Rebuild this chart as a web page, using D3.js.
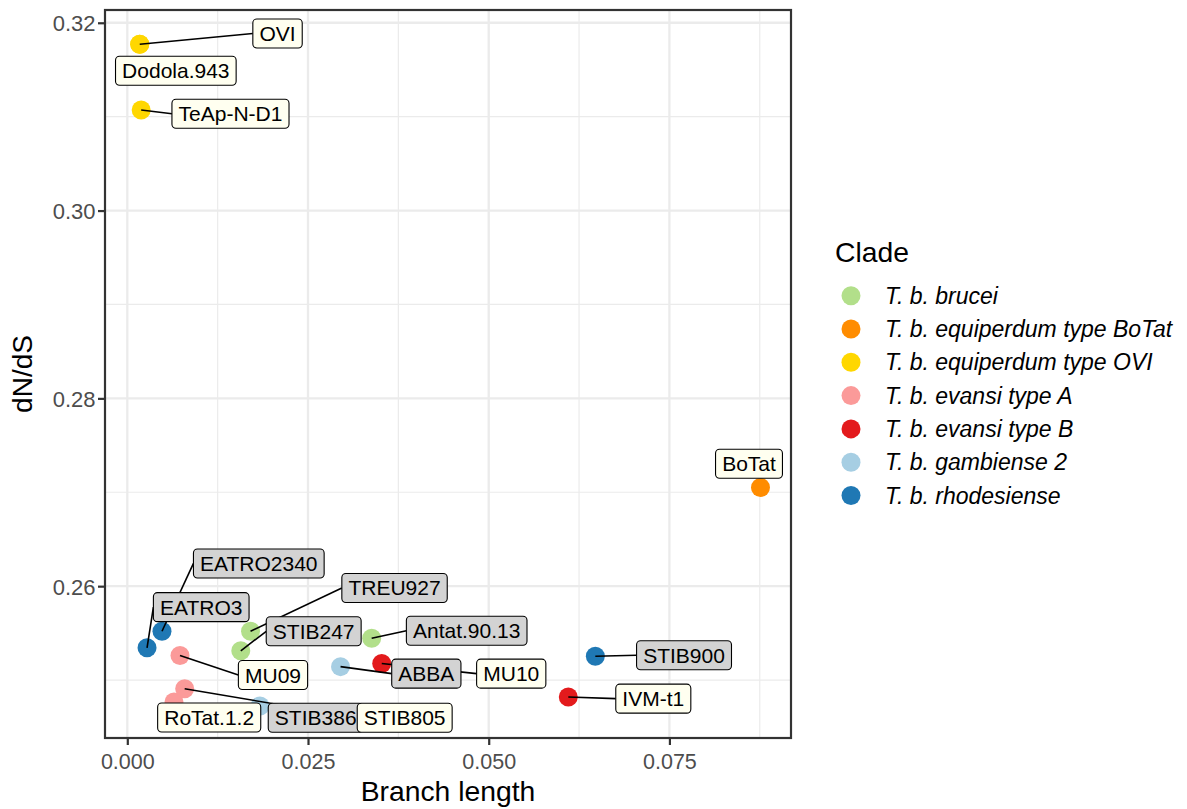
<!DOCTYPE html>
<html><head><meta charset="utf-8">
<script src="https://cdn.jsdelivr.net/npm/d3@7"></script>
<style>
body{margin:0;background:#fff}
text{font-family:"Liberation Sans",Arial,Helvetica,sans-serif}
</style>
</head><body>
<svg id="chart" width="1187" height="809"></svg>
<script>
// ---------------- data ----------------
const clades = ["T. b. brucei","T. b. equiperdum type BoTat","T. b. equiperdum type OVI",
  "T. b. evansi type A","T. b. evansi type B","T. b. gambiense 2","T. b. rhodesiense"];
// dyskinetoplastic clades -> ivory label boxes
const dyskClades = ["T. b. equiperdum type BoTat","T. b. equiperdum type OVI","T. b. evansi type A","T. b. evansi type B"];

const strains = ["OVI","Dodola.943","TeAp-N-D1","BoTat","EATRO2340","EATRO3","TREU927","STIB247",
  "Antat.90.13","ABBA","MU10","MU09","RoTat.1.2","STIB386","STIB805","STIB900","IVM-t1"];
const strainClade = ["T. b. equiperdum type OVI","T. b. equiperdum type OVI","T. b. equiperdum type OVI",
  "T. b. equiperdum type BoTat","T. b. rhodesiense","T. b. rhodesiense","T. b. brucei","T. b. brucei",
  "T. b. brucei","T. b. gambiense 2","T. b. evansi type B","T. b. evansi type A","T. b. evansi type A",
  "T. b. gambiense 2","T. b. evansi type A","T. b. rhodesiense","T. b. evansi type B"];
const branchLength = [0.00172,0.00172,0.00192,0.08760,0.00480,0.00273,0.01705,0.01570,
  0.03381,0.02950,0.03520,0.00729,0.00646,0.01836,0.00794,0.06475,0.06101];
const dnds = [0.31772,0.31772,0.31071,0.27051,0.25520,0.25344,0.25520,0.25312,
  0.25445,0.25143,0.25177,0.25262,0.24767,0.24724,0.24907,0.25253,0.24820];

const xTicks = [0, 0.025, 0.05, 0.075];
const xMinor = [0.0125, 0.0375, 0.0625, 0.0875];
const yTicks = [0.26, 0.28, 0.30, 0.32];
const yMinor = [0.25, 0.27, 0.29, 0.31];

// ---------------- layout / style ----------------
const cladeColors = ["#B2DF8A","#FF8C00","#FFD700","#FB9A99","#E31A1C","#A6CEE3","#1F78B4"];
// repelled label centre offsets (pixels, relative to the point)
const labelDx = [137.8,36.1,89.3,-11.5,96.8,54.2,144,72.9,95,85.8,129.5,93,35.2,55.7,220,88.7,85];
const labelDy = [-10.7,26.6,3.8,-23.7,-67.8,-40.6,-43.3,-19.5,-7.5,7,10.2,19.5,15.5,11.8,29,-1,1.7];

const P = {left:105, right:791, top:10, bottom:738};
const svg = d3.select("#chart");

const x = d3.scaleLinear().domain([-0.003085, 0.09182]).range([P.left, P.right]);
const y = d3.scaleLinear().domain([0.24383, 0.32136]).range([P.bottom, P.top]);
const color = d3.scaleOrdinal().domain(clades).range(cladeColors);

const data = strains.map((s,i)=>({name:s, clade:strainClade[i], x:branchLength[i], y:dnds[i], dx:labelDx[i], dy:labelDy[i]}));

// panel background + grid
svg.append("rect").attr("x",P.left).attr("y",P.top).attr("width",P.right-P.left).attr("height",P.bottom-P.top).attr("fill","#fff");
const grid = svg.append("g");
grid.selectAll(".xm").data(xMinor.filter(v=>x(v)<P.right)).enter().append("line")
  .attr("x1",d=>x(d)).attr("x2",d=>x(d)).attr("y1",P.top).attr("y2",P.bottom)
  .attr("stroke","#EBEBEB").attr("stroke-width",1.2);
grid.selectAll(".ym").data(yMinor).enter().append("line")
  .attr("y1",d=>y(d)).attr("y2",d=>y(d)).attr("x1",P.left).attr("x2",P.right)
  .attr("stroke","#EBEBEB").attr("stroke-width",1.2);
grid.selectAll(".xM").data(xTicks).enter().append("line")
  .attr("x1",d=>x(d)).attr("x2",d=>x(d)).attr("y1",P.top).attr("y2",P.bottom)
  .attr("stroke","#EBEBEB").attr("stroke-width",2.3);
grid.selectAll(".yM").data(yTicks).enter().append("line")
  .attr("y1",d=>y(d)).attr("y2",d=>y(d)).attr("x1",P.left).attr("x2",P.right)
  .attr("stroke","#EBEBEB").attr("stroke-width",2.3);

// points
const R = 9.5;
svg.append("g").selectAll("circle").data(data).enter().append("circle")
  .attr("cx",d=>x(d.x)).attr("cy",d=>y(d.y)).attr("r",R).attr("fill",d=>color(d.clade));

// labels
const labG = svg.append("g");
const segG = labG.append("g");
const boxG = labG.append("g");
const FS = 21, PADX = 6.6, BH = 29;
const lab = boxG.selectAll("g").data(data).enter().append("g");
lab.append("rect");
lab.append("text").text(d=>d.name).attr("font-size",FS).attr("fill","#000").attr("text-anchor","middle");
lab.each(function(d){
  const t = d3.select(this).select("text");
  const w = t.node().getComputedTextLength() + 2*PADX;
  d.px = x(d.x); d.py = y(d.y);
  d.cx = d.px + d.dx; d.cy = d.py + d.dy;
  d.x0 = d.cx - w/2; d.x1 = d.cx + w/2; d.y0 = d.cy - BH/2; d.y1 = d.cy + BH/2;
  t.attr("x",d.cx).attr("y",d.cy + FS*0.36);
  d3.select(this).select("rect").attr("x",d.x0).attr("y",d.y0).attr("width",w).attr("height",BH)
    .attr("rx",4).attr("ry",4)
    .attr("fill", dyskClades.includes(d.clade) ? "#FFFFF0" : "#D3D3D3")
    .attr("stroke","#000").attr("stroke-width",1.1);
  let ex, ey;
  if (d.px < d.x0) { ex = d.x0; ey = d.cy; }
  else if (d.px > d.x1) { ex = d.x1; ey = d.cy; }
  else { ex = d.px; ey = d.py < d.y0 ? d.y0 : d.y1; }
  const len = Math.hypot(ex-d.px, ey-d.py) - R;
  if (len > 8) {
    segG.append("line").attr("x1",d.px).attr("y1",d.py).attr("x2",ex).attr("y2",ey)
      .attr("stroke","#000").attr("stroke-width",1.6);
  }
});

// panel border
svg.append("rect").attr("x",P.left).attr("y",P.top).attr("width",P.right-P.left).attr("height",P.bottom-P.top)
  .attr("fill","none").attr("stroke","#333333").attr("stroke-width",2.2);

// axes
const xAxis = svg.append("g").attr("transform",`translate(0,${P.bottom})`)
  .call(d3.axisBottom(x).tickValues(xTicks).tickFormat(d3.format(".3f")).tickSize(7).tickSizeOuter(0));
xAxis.select(".domain").remove();
xAxis.selectAll(".tick line").attr("stroke","#333333").attr("stroke-width",2.2);
xAxis.selectAll(".tick text").attr("y",31).attr("dy",0).attr("font-size",21.5).attr("fill","#4D4D4D")
  .attr("font-family","Liberation Sans, Arial, sans-serif");

const yAxis = svg.append("g").attr("transform",`translate(${P.left},0)`)
  .call(d3.axisLeft(y).tickValues(yTicks).tickFormat(d3.format(".2f")).tickSize(7).tickSizeOuter(0));
yAxis.select(".domain").remove();
yAxis.selectAll(".tick line").attr("stroke","#333333").attr("stroke-width",2.2);
yAxis.selectAll(".tick text").attr("x",-9.5).attr("dy","0.36em").attr("font-size",22).attr("fill","#4D4D4D")
  .attr("font-family","Liberation Sans, Arial, sans-serif");

// axis titles
svg.append("text").attr("x",(P.left+P.right)/2).attr("y",801).attr("text-anchor","middle")
  .attr("font-size",28.3).attr("fill","#000").text("Branch length");
svg.append("text").attr("transform",`translate(32,${(P.top+P.bottom)/2}) rotate(-90)`).attr("text-anchor","middle")
  .attr("font-size",28).attr("fill","#000").text("dN/dS");

// legend
const leg = svg.append("g");
leg.append("text").attr("x",835).attr("y",262).attr("font-size",28.3).attr("fill","#000").text("Clade");
const li = leg.selectAll(".li").data(clades).enter().append("g");
li.append("circle").attr("cx",851).attr("cy",(d,i)=>295.7+i*33.3).attr("r",R).attr("fill",d=>color(d));
li.append("text").attr("x",885).attr("y",(d,i)=>295.7+i*33.3+8).attr("font-size",23)
  .attr("font-style","italic").attr("fill","#000").text(d=>d);
</script>
</body></html>
